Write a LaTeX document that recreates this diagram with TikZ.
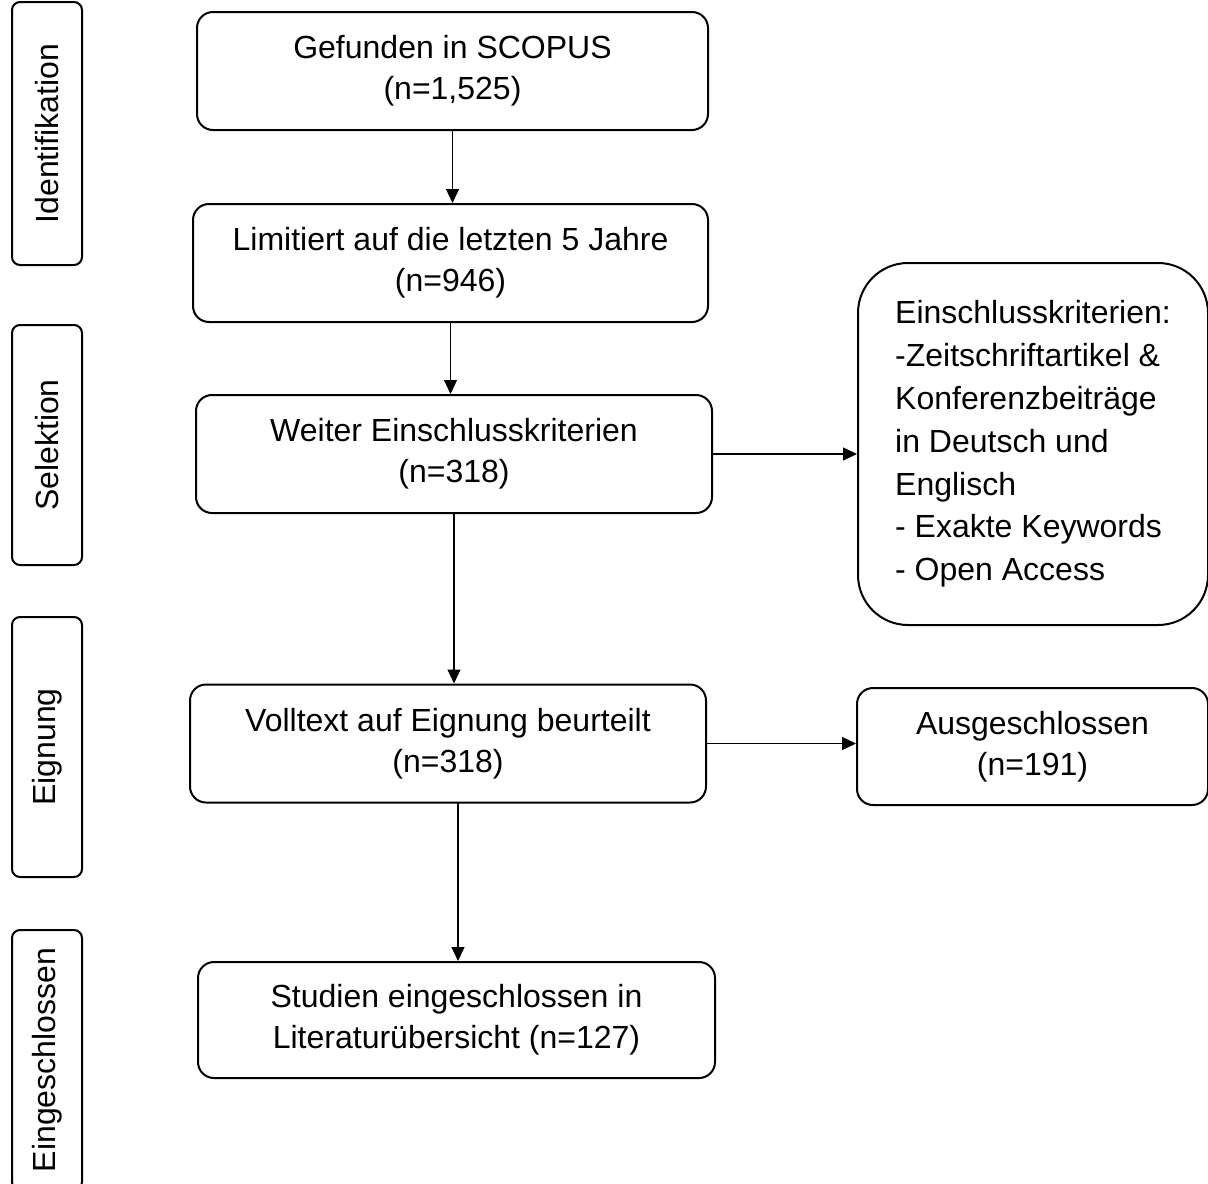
\documentclass[tikz,border=0pt]{standalone}
\usepackage{fontspec}
\setmainfont{Liberation Sans}
\usetikzlibrary{arrows.meta}

\tikzset{
  phase/.style={draw,line width=1pt,rounded corners=4pt,rotate=90,
    minimum height=35pt,inner sep=2pt,font=\fontsize{16}{21}\selectfont},
  stepbox/.style={draw,line width=1pt,rounded corners=8pt,align=center,
    minimum height=59pt,inner sep=4pt,font=\fontsize{16}{20.5}\selectfont},
  flow/.style={line width=0.6pt,-{Triangle[length=7pt,width=6.5pt]}}
}

\begin{document}
\begin{tikzpicture}[line cap=round,line join=round,x=0.5pt,y=-0.5pt]
		\clip (0,0) rectangle (1208,1183);
		% phases on the left
		\node[phase,minimum width=131.5pt] (ident) at (47,133.5) {Identifikation};
		\node[phase,minimum width=120pt] (selek) at (47,445) {Selektion};
		\node[phase,minimum width=130pt] (eign) at (47,747) {Eignung};
		\node[phase,minimum width=130pt] (einge) at (47,1060) {Eingeschlossen};
		% main column
		\node[stepbox,minimum width=255.5pt] (found) at (452.5,71) {Gefunden in SCOPUS\\(n=1,525)};
		\node[stepbox,minimum width=257.5pt] (limit) at (450.5,263) {Limitiert auf die letzten 5 Jahre\\(n=946)};
		\node[stepbox,minimum width=258pt] (crit) at (454,454) {Weiter Einschlusskriterien\\(n=318)};
		\node[stepbox,minimum width=258pt] (full) at (448,743.5) {Volltext auf Eignung beurteilt\\(n=318)};
		\node[stepbox,minimum width=258.5pt,minimum height=58pt] (incl) at (456.5,1020) {Studien eingeschlossen in\\Literaturübersicht (n=127)};
		% right column
		\node[stepbox,rounded corners=25pt,minimum width=175pt,minimum height=181pt,align=left,
		  font=\fontsize{16}{21.4}\selectfont] (crits) at (1033,444)
		  {Einschlusskriterien:\\-Zeitschriftartikel \&\\Konferenzbeiträge\\in Deutsch und\\Englisch\\- Exakte Keywords\\- Open Access};
		\node[stepbox,minimum width=175.5pt,minimum height=58.5pt] (excl) at (1032.5,746.5) {Ausgeschlossen\\(n=191)};
		% connectors
		\draw[flow] (found.south) -- (found.south |- limit.north);
		\draw[flow] (limit.south) -- (limit.south |- crit.north);
		\draw[flow] (crit.south) -- (crit.south |- full.north);
		\draw[flow] ([xshift=5pt]full.south) -- ([xshift=5pt]full.south |- incl.north);
		\draw[flow] (crit.east) -- (crit.east -| crits.west);
		\draw[flow] (full.east) -- (full.east -| excl.west);
\end{tikzpicture}
\end{document}
